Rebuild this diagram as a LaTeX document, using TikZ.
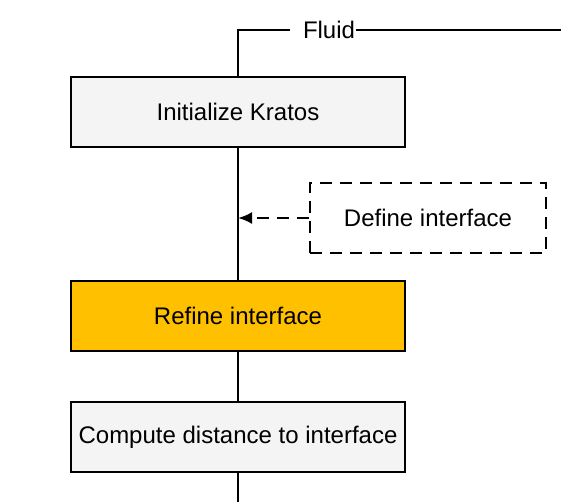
\documentclass[tikz,border=0pt]{standalone}
\usepackage{fontspec}
\setmainfont{Liberation Sans}
\usepackage{tikz}
\usetikzlibrary{arrows.meta}
\definecolor{boxgray}{HTML}{F4F4F4}
\definecolor{refineorange}{HTML}{FFC000}

\begin{document}
\begin{tikzpicture}[x=0.5pt, y=-0.5pt, line width=1pt, font=\fontsize{12}{14}\selectfont,
    stepbox/.style={shape=rectangle, draw=black, fill=boxgray, minimum width=167pt, minimum height=35pt, inner sep=0pt},
    longdash/.style={line width=1.2pt, dash pattern=on 6pt off 4pt},
    inputbox/.style={shape=rectangle, draw=black, longdash, minimum width=118pt, minimum height=35pt, inner sep=0pt}]

        \useasboundingbox (0,0) rectangle (561,502);

            \node[stepbox] (init) at (238,112) {Initialize Kratos};
            \node[inputbox] (define) at (428,218) {Define interface};
            \node[stepbox, fill=refineorange] (refine) at (238,316) {Refine interface};
            \node[stepbox] (compute) at (238,437) {Compute distance to interface};
            \node[anchor=west, inner sep=0pt] (fluid) at (302,30) {Fluid};

            \coordinate (fluidend) at (561,30);
            \coordinate (join) at (238,218);
            \coordinate (bottom) at (238,502);

            \draw (init.north) |- ([xshift=-6pt]fluid.west);
            \draw (fluid.east) -- (fluidend);
            \draw (init) -- (refine);
            \draw (refine) -- (compute);
            \draw (compute) -- (bottom);
            \draw[longdash, -{Latex[length=7pt, width=6pt]}] (define) -- (join);

        \end{tikzpicture}
\end{document}
